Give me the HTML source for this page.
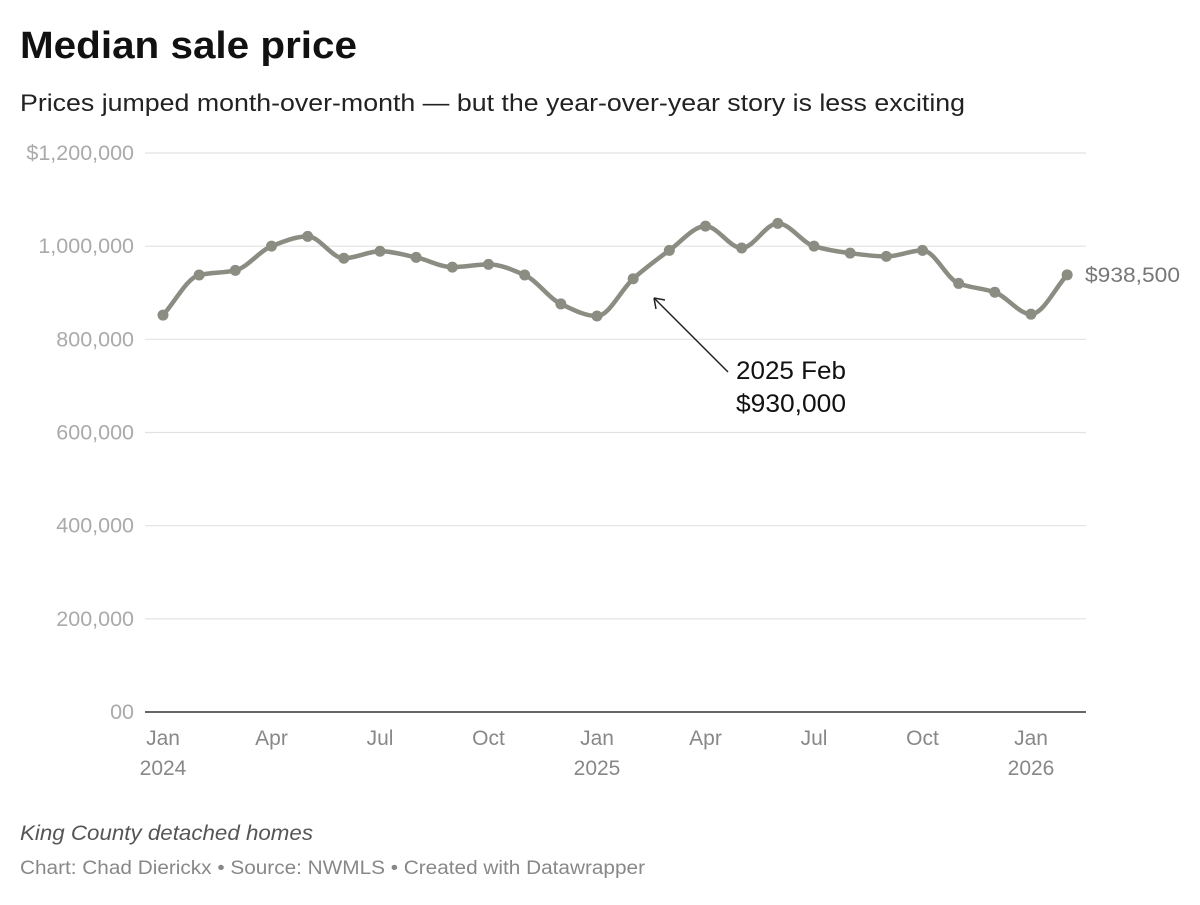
<!DOCTYPE html>
<html><head><meta charset="utf-8"><style>
body{margin:0;background:#fff;font-family:"Liberation Sans",sans-serif;}
svg text{font-family:"Liberation Sans",sans-serif;}
</style></head><body>
<svg width="1200" height="900" viewBox="0 0 1200 900">
<text x="20" y="58" font-size="38" font-weight="bold" fill="#111" textLength="337" lengthAdjust="spacingAndGlyphs">Median sale price</text>
<text x="20" y="111" font-size="24" fill="#222" textLength="945" lengthAdjust="spacingAndGlyphs">Prices jumped month-over-month — but the year-over-year story is less exciting</text>
<g id="grid"></g>
<g id="xaxis"></g>
<path id="line" fill="none" stroke="#8b8c82" stroke-width="4.5" stroke-linejoin="round"></path>
<g id="pts"></g>
<text id="endlabel" x="1085" y="281" font-size="21" fill="#777" textLength="95" lengthAdjust="spacingAndGlyphs">$938,500</text>
<line x1="728" y1="372" x2="654" y2="298" stroke="#222" stroke-width="1.5"></line>
<path d="M654 298 L656 309 M654 298 L665 300" stroke="#222" stroke-width="1.5" fill="none"></path>
<text font-size="25" fill="#111"><tspan x="736" y="379" textLength="110" lengthAdjust="spacingAndGlyphs">2025 Feb</tspan><tspan x="736" y="412" textLength="110" lengthAdjust="spacingAndGlyphs">$930,000</tspan></text>
<text x="20" y="840" font-size="21" font-style="italic" fill="#555" textLength="293" lengthAdjust="spacingAndGlyphs">King County detached homes</text>
<text x="20" y="874" font-size="19" fill="#888" textLength="625" lengthAdjust="spacingAndGlyphs">Chart: Chad Dierickx • Source: NWMLS • Created with Datawrapper</text>
</svg>
<script>
const months=["2024-01","2024-02","2024-03","2024-04","2024-05","2024-06","2024-07","2024-08","2024-09","2024-10","2024-11","2024-12","2025-01","2025-02","2025-03","2025-04","2025-05","2025-06","2025-07","2025-08","2025-09","2025-10","2025-11","2025-12","2026-01","2026-02"];
const prices=[852000,938000,948000,1000000,1021000,974000,989000,976000,955000,961000,938000,876000,850000,930000,991000,1043000,996000,1049000,1000000,985000,978000,991000,920000,901000,854000,938500];
const yTicks=[0,200000,400000,600000,800000,1000000,1200000];
const yTickLabels=["00","200,000","400,000","600,000","800,000","1,000,000","$1,200,000"];
const xTickIdx=[0,3,6,9,12,15,18,21,24];
const xTickLabels=["Jan","Apr","Jul","Oct","Jan","Apr","Jul","Oct","Jan"];
const xYearLabels=["2024","","","","2025","","","","2026"];
const NS="http://www.w3.org/2000/svg";
const x=i=>163+i*(1031-163)/24;
const y=v=>712-v*(712-153)/1200000;
function mk(tag,attrs,parent){const e=document.createElementNS(NS,tag);for(const k in attrs)e.setAttribute(k,attrs[k]);parent.appendChild(e);return e;}
const grid=document.getElementById('grid');
yTicks.forEach((v,i)=>{
  if(v>0){const l=mk('line',{x1:145,x2:1086,y1:y(v),y2:y(v),stroke:'#e2e2e2','stroke-width':1.2},grid);
  
  }
  const t=mk('text',{x:134,y:y(v)+7,'font-size':21.5,fill:'#aaa','text-anchor':'end'},grid);
  t.textContent=yTickLabels[i];
  
  
});
const xa=document.getElementById('xaxis');
const base=mk('line',{x1:145,x2:1086,y1:712,y2:712,stroke:'#333','stroke-width':1.5},xa);


xTickIdx.forEach((idx,i)=>{
  const t=mk('text',{x:x(idx),y:745,'font-size':21,fill:'#888','text-anchor':'middle'},xa);
  t.textContent=xTickLabels[i];
  
  
  if(xYearLabels[i]){const t2=mk('text',{x:x(idx),y:775,'font-size':21,fill:'#888','text-anchor':'middle'},xa);
  t2.textContent=xYearLabels[i];
  
  }
});
const P=prices.map((v,i)=>[x(i),y(v)]);
const n=P.length,d=[],m=[];
for(let i=0;i<n-1;i++)d.push((P[i+1][1]-P[i][1])/(P[i+1][0]-P[i][0]));
m[0]=d[0];m[n-1]=d[n-2];
for(let i=1;i<n-1;i++)m[i]=(d[i-1]*d[i]<=0)?0:2/(1/d[i-1]+1/d[i]);
let path=`M${P[0][0]},${P[0][1]}`;
for(let i=0;i<n-1;i++){const h=(P[i+1][0]-P[i][0])/3;
path+=` C${P[i][0]+h},${P[i][1]+m[i]*h} ${P[i+1][0]-h},${P[i+1][1]-m[i+1]*h} ${P[i+1][0]},${P[i+1][1]}`;}
document.getElementById('line').setAttribute('d',path);
const pts=document.getElementById('pts');
P.forEach(p=>{const c=mk('circle',{cx:p[0],cy:p[1],r:5.5,fill:'#8b8c82'},pts);

});
document.getElementById('endlabel').setAttribute('y',y(prices[n-1])+7);
</script>
</body></html>
